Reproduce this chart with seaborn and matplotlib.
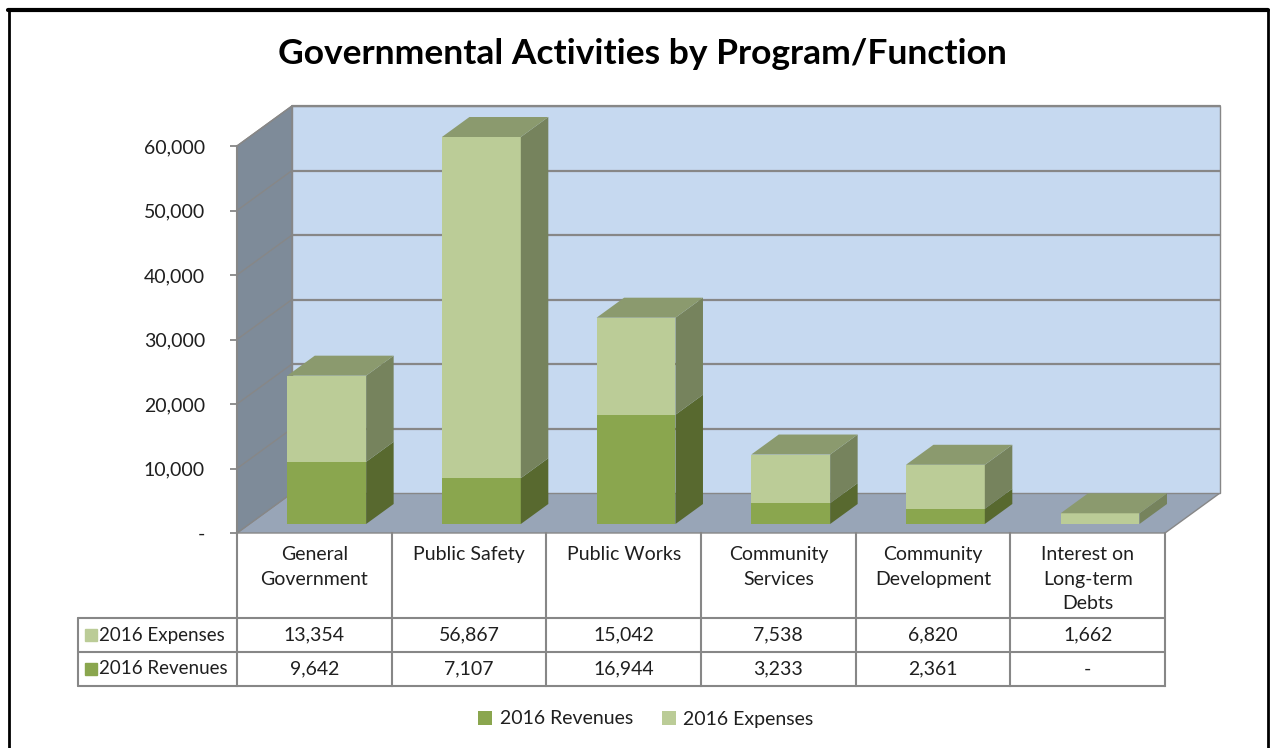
import numpy as np
import pandas as pd
import matplotlib
matplotlib.use("Agg")
import matplotlib.pyplot as plt
import seaborn as sns
from matplotlib.patches import Polygon, Patch
from matplotlib.lines import Line2D
from matplotlib.transforms import blended_transform_factory

# ---------------- data ----------------
categories = ["General\nGovernment", "Public Safety", "Public Works",
              "Community\nServices", "Community\nDevelopment",
              "Interest on\nLong-term\nDebts"]
expenses = [13354, 56867, 15042, 7538, 6820, 1662]
revenues = [9642, 7107, 16944, 3233, 2361, 0]
series_names = ["2016 Expenses", "2016 Revenues"]
y_ticks = [0, 10000, 20000, 30000, 40000, 50000, 60000]
title = "Governmental Activities by Program/Function"

# ---------------- style ----------------
sns.set_style("white")
plt.rcParams["font.family"] = ["Lato", "DejaVu Sans"]
TXT = "#1f1f1f"
GRID = "#878787"
WALL = "#C6D9F0"
SIDE = "#7E8B99"
FLOOR = "#98A5B7"
REV, REV_S = "#8AA64E", "#58692F"
EXP, EXP_S = "#BBCC97", "#76835D"
TOP = "#8B9A6E"
FS = 14

W, H = 1275, 748
fig = plt.figure(figsize=(W / 100, H / 100), dpi=100)
fig.patch.set_facecolor("white")

# layout (pixels)
X0, X1, YB, YT = 237, 1165, 533, 146
DX, DY = 55, 40
BAR_D, BAR_DEPTH, BW = 0.225, 0.5, 0.51
n = len(categories)
YMAX = y_ticks[-1]
ux = n / (X1 - X0)
uy = YMAX / (YB - YT)
dxd, dyd = DX * ux, DY * uy

axF = fig.add_axes([X0 / W, (H - YB) / H, (X1 - X0) / W, (YB - YT) / H])
axB = fig.add_axes([(X0 + BAR_D * DX) / W, (H - YB + BAR_D * DY) / H,
                    (X1 - X0) / W, (YB - YT) / H])
axO = fig.add_axes([0, 0, 1, 1])
for a in (axF, axB, axO):
    a.patch.set_visible(False)

# ---------------- walls / floor (front plane axes) ----------------
axF.set_xlim(-0.5, n - 0.5)
axF.set_ylim(0, YMAX)
L, R = -0.5, n - 0.5
floor = Polygon([(L, 0), (R, 0), (R + dxd, dyd), (L + dxd, dyd)],
                closed=True, fc=FLOOR, ec=GRID, lw=1.0, clip_on=False, zorder=1)
side = Polygon([(L, 0), (L + dxd, dyd), (L + dxd, YMAX + dyd), (L, YMAX)],
               closed=True, fc=SIDE, ec=GRID, lw=1.0, clip_on=False, zorder=1)
back = Polygon([(L + dxd, dyd), (R + dxd, dyd), (R + dxd, YMAX + dyd), (L + dxd, YMAX + dyd)],
               closed=True, fc=WALL, ec=GRID, lw=1.0, clip_on=False, zorder=1)
for p in (floor, side, back):
    axF.add_patch(p)
for v in y_ticks[1:]:
    axF.plot([L + dxd, R + dxd], [v + dyd, v + dyd], color=GRID, lw=1.6,
             clip_on=False, zorder=2)
    axF.plot([L, L + dxd], [v, v + dyd], color=GRID, lw=1.0, clip_on=False, zorder=2)

axF.set_yticks(y_ticks)
axF.set_yticklabels(["-" if v == 0 else f"{v:,}" for v in y_ticks])
axF.tick_params(axis="y", length=5, width=1.3, color=GRID, pad=18,
                labelsize=FS, labelcolor=TXT, left=True)
axF.set_xticks([])
for s in ("top", "right", "bottom"):
    axF.spines[s].set_visible(False)
axF.spines["left"].set_color(GRID)
axF.spines["left"].set_linewidth(1.5)
axF.spines["left"].set_zorder(3)

# ---------------- bars (seaborn) ----------------
df = pd.DataFrame({"category": categories, "expenses": expenses, "revenues": revenues})
df["total"] = np.minimum(df["expenses"] + df["revenues"], YMAX)
df["rev_shown"] = np.minimum(df["revenues"], YMAX)

sns.barplot(data=df, x="category", y="total", color=EXP, width=BW, saturation=1,
            errorbar=None, linewidth=0, ax=axB)
sns.barplot(data=df, x="category", y="rev_shown", color=REV, width=BW, saturation=1,
            errorbar=None, linewidth=0, ax=axB)
axB.set_xlim(-0.5, n - 0.5)
axB.set_ylim(0, YMAX)
axB.axis("off")

bdx, bdy = BAR_DEPTH * dxd, BAR_DEPTH * dyd
for i, (rv, tot) in enumerate(zip(df["rev_shown"], df["total"])):
    xl, xr = i - BW / 2, i + BW / 2
    if rv > 0:
        axB.add_patch(Polygon([(xr, 0), (xr + bdx, bdy), (xr + bdx, rv + bdy), (xr, rv)],
                              closed=True, fc=REV_S, ec="none", clip_on=False))
    axB.add_patch(Polygon([(xr, rv), (xr + bdx, rv + bdy), (xr + bdx, tot + bdy), (xr, tot)],
                          closed=True, fc=EXP_S, ec="none", clip_on=False))
    axB.add_patch(Polygon([(xl, tot), (xr, tot), (xr + bdx, tot + bdy), (xl + bdx, tot + bdy)],
                          closed=True, fc=TOP, ec="none", clip_on=False))

# ---------------- data table ----------------
axO.set_xlim(0, W)
axO.set_ylim(H, 0)
axO.axis("off")
tr = blended_transform_factory(axF.transData, axO.transData)
TBL_TOP, HDR_BOT, ROW_H = 533, 618, 34
x_left = -0.5 - (X0 - 78) * ux
lw_t = 1.5
for k in range(n + 1):
    axO.plot([k - 0.5, k - 0.5], [TBL_TOP, HDR_BOT + 2 * ROW_H], color=GRID, lw=lw_t,
             transform=tr, clip_on=False, solid_capstyle="projecting")
axO.plot([x_left, x_left], [HDR_BOT, HDR_BOT + 2 * ROW_H], color=GRID, lw=lw_t,
         transform=tr, clip_on=False)
for r in range(3):
    yy = HDR_BOT + r * ROW_H
    axO.plot([x_left, n - 0.5], [yy, yy], color=GRID, lw=lw_t, transform=tr, clip_on=False)

for i, c in enumerate(categories):
    axO.text(i, TBL_TOP + 13, c, ha="center", va="top", fontsize=FS, color=TXT,
             linespacing=1.55, transform=tr)

rows = [(series_names[0], expenses, EXP), (series_names[1], revenues, REV)]
for r, (name, vals, col) in enumerate(rows):
    yc = HDR_BOT + (r + 0.5) * ROW_H
    for i, v in enumerate(vals):
        axO.text(i, yc, "-" if v == 0 else f"{v:,}", ha="center", va="center",
                 fontsize=FS, color=TXT, transform=tr)
    axO.plot([91], [yc], marker="s", ms=8, color=col, clip_on=False)
    axO.text(99, yc, name, ha="left", va="center", fontsize=13.5, color=TXT)

# ---------------- legend ----------------
handles = [Patch(fc=REV, ec="none", label=series_names[1]),
           Patch(fc=EXP, ec="none", label=series_names[0])]
fig.legend(handles=handles, loc="center", bbox_to_anchor=(646 / W, 1 - 719 / H),
           ncol=2, frameon=False, fontsize=FS, handlelength=0.7, handleheight=0.7,
           handletextpad=0.4, columnspacing=1.5, labelcolor=TXT)

# ---------------- title ----------------
fig.text(642 / W, 1 - 54 / H, title, ha="center", va="center", fontsize=25.5,
         fontweight="bold", color="black")

# ---------------- outer frame ----------------
for (xs, ys, lw) in [([8, 1268], [10, 10], 3.0), ([9, 9], [10, H], 2.0),
                     ([1268, 1268], [10, H], 2.0)]:
    axO.add_line(Line2D(xs, ys, color="black", lw=lw, clip_on=False))

fig.savefig("out.png", dpi=100)
